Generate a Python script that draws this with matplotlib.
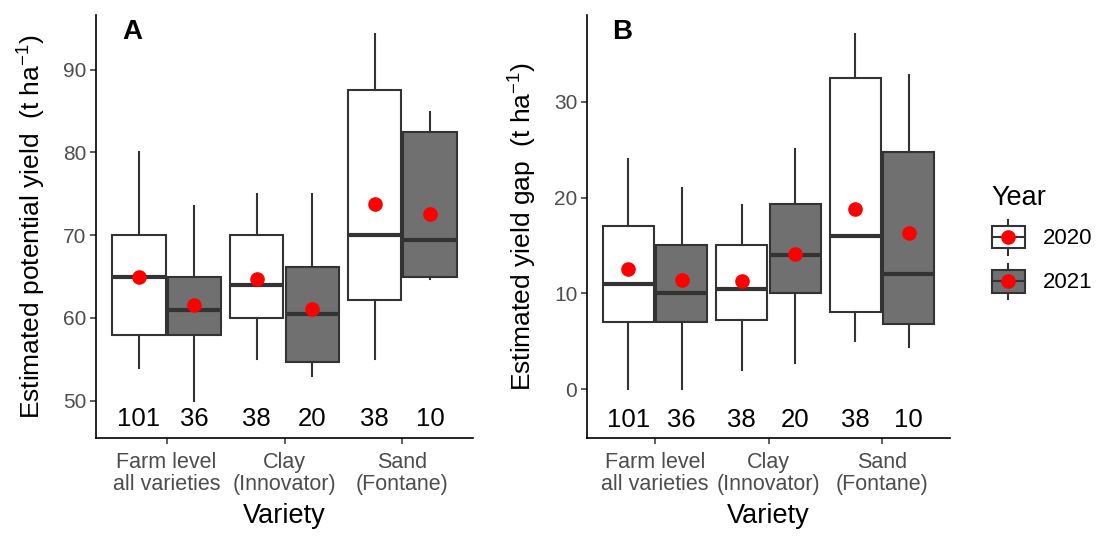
import matplotlib
matplotlib.use("Agg")
import matplotlib.pyplot as plt
from matplotlib.legend_handler import HandlerBase
from matplotlib.patches import Rectangle
from matplotlib.lines import Line2D

plt.rcParams['font.family'] = ['Liberation Sans', 'DejaVu Sans']
plt.rcParams['mathtext.fontset'] = 'custom'
plt.rcParams['mathtext.rm'] = 'Liberation Sans'
plt.rcParams['mathtext.it'] = 'Liberation Sans'

# ---------------- data ----------------
categories = ["Farm level\nall varieties", "Clay\n(Innovator)", "Sand\n(Fontane)"]
years = ["2020", "2021"]
counts_2020 = [101, 38, 38]
counts_2021 = [36, 20, 10]

# Panel A: potential yield  (whislo, q1, med, q3, whishi, mean)
pot_2020_whislo = [54.0, 55.0, 55.0]
pot_2020_q1     = [58.0, 60.0, 62.2]
pot_2020_med    = [65.0, 64.0, 70.0]
pot_2020_q3     = [70.0, 70.0, 87.5]
pot_2020_whishi = [80.0, 75.0, 94.3]
pot_2020_mean   = [65.0, 64.7, 73.8]

pot_2021_whislo = [50.0, 53.0, 64.7]
pot_2021_q1     = [58.0, 54.7, 65.0]
pot_2021_med    = [61.0, 60.5, 69.4]
pot_2021_q3     = [65.0, 66.2, 82.5]
pot_2021_whishi = [73.5, 75.0, 84.9]
pot_2021_mean   = [61.6, 61.1, 72.6]

# Panel B: yield gap
gap_2020_whislo = [0.0, 2.0, 5.0]
gap_2020_q1     = [7.0, 7.2, 8.0]
gap_2020_med    = [11.0, 10.5, 16.0]
gap_2020_q3     = [17.0, 15.0, 32.5]
gap_2020_whishi = [24.0, 19.2, 37.1]
gap_2020_mean   = [12.5, 11.3, 18.8]

gap_2021_whislo = [0.0, 2.7, 4.4]
gap_2021_q1     = [7.0, 10.0, 6.8]
gap_2021_med    = [10.0, 14.0, 12.0]
gap_2021_q3     = [15.0, 19.3, 24.8]
gap_2021_whishi = [21.0, 25.1, 32.8]
gap_2021_mean   = [11.4, 14.1, 16.3]

# ---------------- styles ----------------
fill_colors = {"2020": "white", "2021": "#707070"}
edge = "#333333"
tick_grey = "#4d4d4d"

fig = plt.figure(figsize=(10.97, 5.51), dpi=100)
axA = fig.add_axes([96/1097, 1-438/551, (473-96)/1097, (438-15)/551])
axB = fig.add_axes([587/1097, 1-438/551, (950-587)/1097, (438-15)/551])


def make_stats(wl, q1, med, q3, wh, mean):
    return [dict(whislo=a, q1=b, med=c, q3=d, whishi=e, mean=f, fliers=[])
            for a, b, c, d, e, f in zip(wl, q1, med, q3, wh, mean)]


def draw_panel(ax, s2020, s2021, ylim, yticks, count_y, ylabel, letter, ylabelpad):
    base = list(range(1, len(categories) + 1))
    off = 0.235
    w = 0.45
    for stats, year, sign, counts in ((s2020, "2020", -1, counts_2020),
                                       (s2021, "2021", 1, counts_2021)):
        pos = [b + sign * off for b in base]
        ax.bxp(stats, positions=pos, widths=w, patch_artist=True,
               showmeans=True, showcaps=False, showfliers=False,
               boxprops=dict(facecolor=fill_colors[year], edgecolor=edge, linewidth=1.5),
               whiskerprops=dict(color=edge, linewidth=1.5),
               medianprops=dict(color=edge, linewidth=3.0, solid_capstyle='butt'),
               meanprops=dict(marker='o', markerfacecolor='red', markeredgecolor='red',
                              markersize=9.5),
               manage_ticks=False)
        for p, c in zip(pos, counts):
            ax.text(p, count_y, str(c), ha='center', va='center', fontsize=18.5, color='black')
    ax.set_xlim(0.4, 3.6)
    ax.set_ylim(*ylim)
    ax.set_xticks(base)
    ax.set_xticklabels(categories, fontsize=15.5, color=tick_grey, linespacing=1.05)
    ax.set_yticks(yticks)
    ax.set_yticklabels([str(t) for t in yticks], fontsize=15, color=tick_grey)
    for sp in ("top", "right"):
        ax.spines[sp].set_visible(False)
    for sp in ("left", "bottom"):
        ax.spines[sp].set_linewidth(1.2)
        ax.spines[sp].set_color("black")
    ax.tick_params(axis='y', length=4, width=1.1, color='#333333', pad=3)
    ax.tick_params(axis='x', length=4, width=1.1, color='#333333', pad=6)
    ax.set_xlabel("Variety", fontsize=19.5, labelpad=6)
    ax.set_ylabel(ylabel, fontsize=19, labelpad=ylabelpad)
    ax.text(0.07, 0.99, letter, transform=ax.transAxes, ha='left', va='top',
            fontsize=20, fontweight='bold')


draw_panel(axA,
           make_stats(pot_2020_whislo, pot_2020_q1, pot_2020_med, pot_2020_q3, pot_2020_whishi, pot_2020_mean),
           make_stats(pot_2021_whislo, pot_2021_q1, pot_2021_med, pot_2021_q3, pot_2021_whishi, pot_2021_mean),
           (45.5, 96.6), [50, 60, 70, 80, 90], 47.8,
           "Estimated potential yield  (t ha$^{-1}$)", "A", 11)
draw_panel(axB,
           make_stats(gap_2020_whislo, gap_2020_q1, gap_2020_med, gap_2020_q3, gap_2020_whishi, gap_2020_mean),
           make_stats(gap_2021_whislo, gap_2021_q1, gap_2021_med, gap_2021_q3, gap_2021_whishi, gap_2021_mean),
           (-5.1, 39.05), [0, 10, 20, 30], -3.2,
           "Estimated yield gap  (t ha$^{-1}$)", "B", 11)


class BoxKeyHandler(HandlerBase):
    def __init__(self, face):
        super().__init__()
        self.face = face

    def create_artists(self, legend, orig_handle, xdescent, ydescent, width, height, fontsize, trans):
        x0, y0 = -xdescent, -ydescent
        rect = Rectangle((x0, y0 + height * 0.18), width, height * 0.64,
                         facecolor=self.face, edgecolor=edge, linewidth=1.5, transform=trans)
        cx = x0 + width / 2
        med = Line2D([x0, x0 + width], [y0 + height / 2] * 2, color=edge, lw=1.5, transform=trans)
        w1 = Line2D([cx, cx], [y0 + height * 0.82, y0 + height], color=edge, lw=1.5, transform=trans)
        w2 = Line2D([cx, cx], [y0, y0 + height * 0.18], color=edge, lw=1.5, transform=trans)
        dot = Line2D([cx], [y0 + height / 2], marker='o', color='red', markersize=9.5, lw=0,
                     transform=trans)
        return [rect, med, w1, w2, dot]


h1 = Rectangle((0, 0), 1, 1)
h2 = Rectangle((0, 0), 1, 1)
leg = fig.legend([h1, h2], years, loc='upper left',
                 bbox_to_anchor=(985/1097, 1 - 178/551),
                 handler_map={h1: BoxKeyHandler(fill_colors["2020"]),
                              h2: BoxKeyHandler(fill_colors["2021"])},
                 frameon=False, fontsize=16, title="Year", title_fontsize=19.5,
                 handlelength=1.5, handleheight=2.06, labelspacing=0.4,
                 handletextpad=0.8, alignment='left', borderaxespad=0, borderpad=0.3)

fig.savefig("out.png", dpi=100)
